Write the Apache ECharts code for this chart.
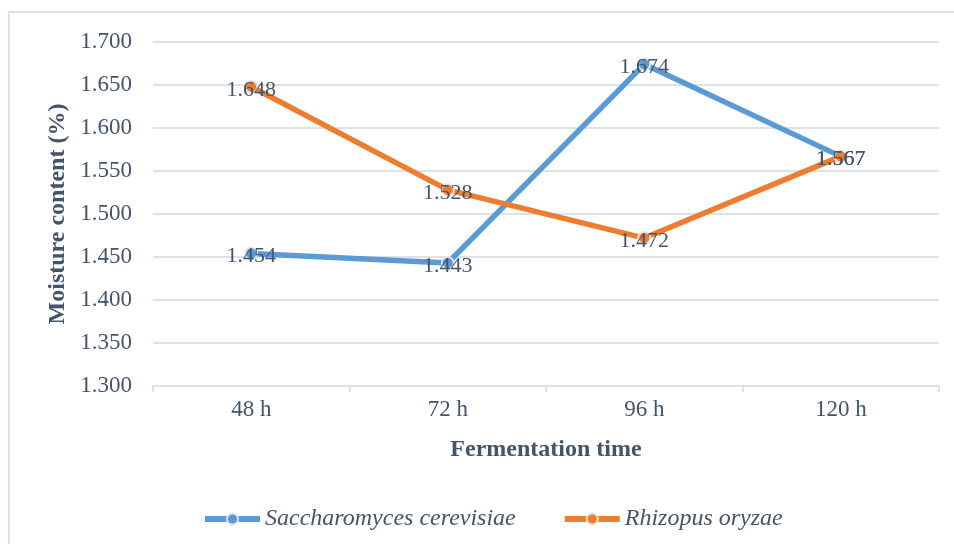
<!DOCTYPE html>
<html lang="en">
<head>
    <meta charset="UTF-8">
    <title>moisture content</title>
    <script src="https://cdn.jsdelivr.net/npm/echarts@6/dist/echarts.min.js"></script>
    <style type="text/css">
        body {
            margin: 0;
            padding: 0;
            background-color: #fff;
        }

        #chart {
            width: 954px;
            height: 544px;
        }
    </style>
</head>
<body>
<div id="chart"></div>

<script>
    // data
    var times = ["48 h", "72 h", "96 h", "120 h"];
    var saccharomyces = [1.454, 1.443, 1.674, 1.567];
    var rhizopus = [1.648, 1.528, 1.472, 1.567];
    var seriesNames = ["Saccharomyces cerevisiae", "Rhizopus oryzae"];

    var textColor = "#44546a";
    var gridColor = "#dde2ea";
    var serif = "'Liberation Serif', 'DejaVu Serif', serif";

    function makeSeries(name, data, color) {
        return {
            name: name,
            type: "line",
            data: data,
            symbol: "circle",
            symbolSize: 12,
            lineStyle: { color: color, width: 5.5 },
            itemStyle: { color: color, borderColor: "rgba(232,232,232,0.9)", borderWidth: 2 },
            label: {
                show: true,
                position: "inside",
                offset: [0, 3],
                color: textColor,
                fontFamily: serif,
                fontSize: 22,
                formatter: function (p) { return p.value.toFixed(3); }
            },
            emphasis: { disabled: true },
            z: 3
        };
    }

    var chart = echarts.init(document.getElementById("chart"));
    chart.setOption({
        animation: false,
        textStyle: { fontFamily: serif },
        graphic: [{
            type: "rect",
            shape: { x: 9, y: 12, width: 980, height: 600 },
            style: { fill: "none", stroke: gridColor, lineWidth: 2 },
            silent: true
        }],
        grid: { left: 153, right: 15, top: 42, bottom: 158 },
        legend: {
            top: 502,
            left: 197,
            itemGap: 46,
            itemWidth: 55,
            itemHeight: 14,
            data: seriesNames,
            lineStyle: { width: 6 },
            textStyle: { color: textColor, fontFamily: serif, fontSize: 24, fontStyle: "italic" }
        },
        xAxis: {
            type: "category",
            data: times,
            boundaryGap: true,
            name: "Fermentation time",
            nameLocation: "middle",
            nameGap: 52,
            nameTextStyle: { color: textColor, fontFamily: serif, fontSize: 24, fontWeight: "bold" },
            axisLine: { lineStyle: { color: gridColor, width: 2 } },
            axisTick: { show: true, length: 6, lineStyle: { color: gridColor, width: 2 } },
            axisLabel: { color: textColor, fontFamily: serif, fontSize: 23, margin: 12 }
        },
        yAxis: {
            type: "value",
            min: 1.3,
            max: 1.7,
            interval: 0.05,
            name: "Moisture content (%)",
            nameLocation: "middle",
            nameGap: 83,
            nameTextStyle: { color: textColor, fontFamily: serif, fontSize: 24, fontWeight: "bold" },
            axisLine: { show: false },
            axisTick: { show: false },
            splitLine: { lineStyle: { color: gridColor, width: 2 } },
            axisLabel: {
                color: textColor,
                fontFamily: serif,
                fontSize: 23,
                margin: 21,
                formatter: function (v) { return v.toFixed(3); }
            }
        },
        series: [
            makeSeries(seriesNames[0], saccharomyces, "#5b9bd5"),
            makeSeries(seriesNames[1], rhizopus, "#ed7d31")
        ]
    });
</script>
</body>
</html>
